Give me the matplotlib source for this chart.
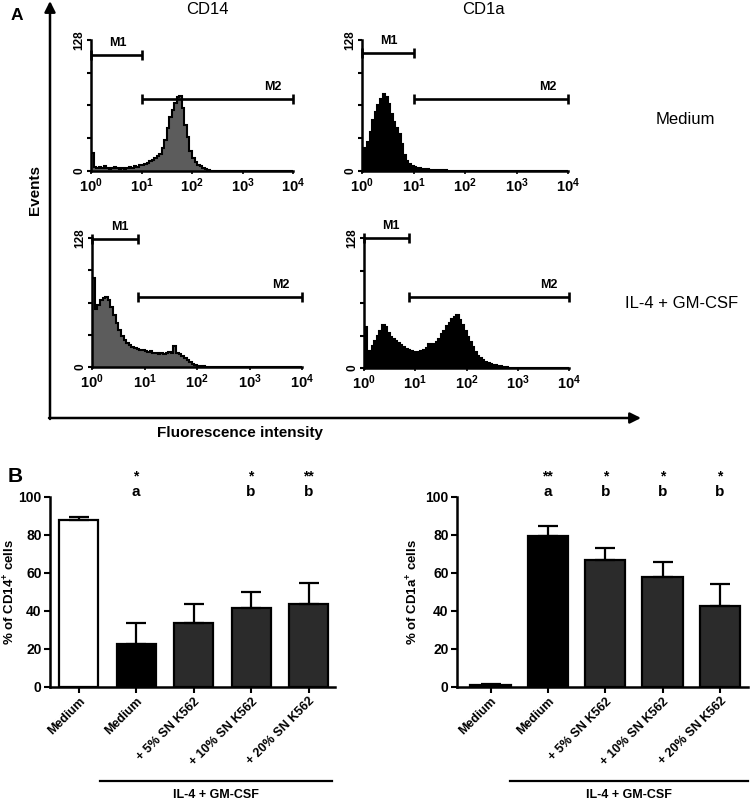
import numpy as np
import matplotlib
matplotlib.use("Agg")
import matplotlib.pyplot as plt

plt.rcParams['font.family'] = ['Liberation Sans', 'DejaVu Sans']
plt.rcParams['mathtext.fontset'] = 'custom'
plt.rcParams['mathtext.rm'] = 'Liberation Sans'
plt.rcParams['mathtext.bf'] = 'Liberation Sans:bold'

W, H = 750, 801

# flow cytometry histograms: events per bin, 20 bins per decade (10^0 .. 10^4)
cd14_medium = [18, 4, 3, 4, 3, 5, 3, 2, 3, 4, 3, 2, 3, 2, 3, 4, 3, 5, 4, 6,
               6, 7, 8, 10, 11, 13, 15, 17, 22, 30, 42, 53, 60, 66, 72, 73, 62, 45, 33, 20,
               13, 9, 6, 5, 3, 2, 1, 0, 0, 0, 0, 0, 0, 0, 0, 0, 0, 0, 0, 0,
               0, 0, 0, 0, 0, 0, 0, 0, 0, 0, 0, 0, 0, 0, 0, 0, 0, 0, 0, 0]
cd1a_medium = [22, 20, 28, 38, 50, 58, 64, 70, 75, 72, 65, 56, 48, 42, 36, 26, 16, 10, 7, 5,
               4, 3, 3, 2, 2, 2, 1, 1, 1, 1, 1, 0, 1, 0, 0, 0, 0, 0, 0, 0,
               0, 0, 0, 0, 0, 0, 0, 0, 0, 0, 0, 0, 0, 0, 0, 0, 0, 0, 0, 0,
               0, 0, 0, 0, 0, 0, 0, 0, 0, 0, 0, 0, 0, 0, 0, 0, 0, 0, 0, 0]
cd14_il4 = [88, 58, 62, 66, 68, 69, 66, 60, 52, 44, 37, 31, 27, 24, 22, 20, 19, 18, 17, 17,
            16, 15, 16, 14, 14, 13, 14, 13, 14, 15, 14, 21, 14, 13, 11, 9, 7, 5, 3, 2,
            1, 1, 1, 0, 0, 0, 0, 0, 0, 0, 0, 0, 0, 0, 0, 0, 0, 0, 0, 0,
            0, 0, 0, 0, 0, 0, 0, 0, 0, 0, 0, 0, 0, 0, 0, 0, 0, 0, 0, 0]
cd1a_il4 = [40, 14, 17, 22, 27, 32, 36, 42, 40, 34, 31, 29, 27, 25, 23, 21, 19, 18, 17, 16,
            16, 16, 17, 18, 20, 24, 23, 24, 26, 29, 33, 36, 41, 44, 48, 50, 52, 47, 42, 36,
            31, 26, 21, 16, 12, 10, 8, 6, 5, 4, 3, 3, 2, 2, 1, 1, 0, 0, 0, 0,
            0, 0, 0, 0, 0, 0, 0, 0, 0, 0, 0, 0, 0, 0, 0, 0, 0, 0, 0, 0]

# marker gates: (start, end, height)
cd14_medium_m1 = (1, 10, 113)
cd14_medium_m2 = (10, 10000, 70)
cd1a_medium_m1 = (1, 10, 115)
cd1a_medium_m2 = (10, 10000, 70)
cd14_il4_m1 = (1, 7.6, 127)
cd14_il4_m2 = (7.6, 10000, 69)
cd1a_il4_m1 = (1, 7.4, 128)
cd1a_il4_m2 = (7.4, 10000, 70)

# panel B
bar_labels = ["Medium", "Medium", "+ 5% SN K562", "+ 10% SN K562", "+ 20% SN K562"]
cd14_pct = [87.7, 22.6, 33.8, 41.5, 43.9]
cd14_err = [1.6, 11.2, 10.1, 8.4, 11.1]
cd14_stars = ["", "*", "", "*", "**"]
cd14_letters = ["", "a", "", "b", "b"]
cd1a_pct = [1.0, 79.5, 66.9, 57.8, 42.5]
cd1a_err = [0.6, 5.2, 6.0, 8.2, 11.5]
cd1a_stars = ["", "**", "*", "*", "*"]
cd1a_letters = ["", "a", "b", "b", "b"]
bar_colors = ["white", "black", "#2b2b2b", "#2b2b2b", "#2b2b2b"]

fig = plt.figure(figsize=(W / 100, H / 100), dpi=100)


def px_axes(left, top, right, bottom, **kw):
    return fig.add_axes([left / W, 1 - bottom / H, (right - left) / W, (bottom - top) / H], **kw)


def draw_hist(ax, counts, fill, m1, m2):
    edges = 10 ** (np.arange(len(counts) + 1) / 20)
    ax.stairs(counts, edges, fill=True, color=fill, lw=0)
    ax.stairs(counts, edges, color='black', lw=1.5)
    ax.set_xscale('log')
    ax.set_xlim(1, 1e4)
    ax.set_ylim(0, 128)
    for s in ['top', 'right']:
        ax.spines[s].set_visible(False)
    for s in ['left', 'bottom']:
        ax.spines[s].set_linewidth(1.8)
    ax.set_xticks([1, 10, 100, 1000, 10000])
    ax.set_xticklabels([r'$\mathbf{10^{%d}}$' % k for k in range(5)], fontsize=10.5)
    ax.xaxis.set_minor_locator(matplotlib.ticker.NullLocator())
    ax.set_yticks([0, 32, 64, 96, 128])
    ax.set_yticklabels(['0', '', '', '', '128'], rotation=90, va='center',
                       fontsize=8.5, fontweight='bold')
    ax.tick_params(axis='y', length=3, width=1.5, pad=1)
    ax.tick_params(axis='x', length=2, width=1.2, pad=2)
    for (x0, x1, y), name, lx in [(m1, 'M1', 3.4), (m2, 'M2', 4000)]:
        ax.plot([x0, x1], [y, y], color='black', lw=1.9, marker='|', ms=7, mew=1.9,
                clip_on=False, solid_capstyle='butt')
        ax.text(lx, y + 6, name, ha='center', va='bottom', fontsize=9,
                fontweight='bold', clip_on=False)


h1 = px_axes(91, 40, 293, 171)
draw_hist(h1, cd14_medium, '#5c5c5c', cd14_medium_m1, cd14_medium_m2)
h2 = px_axes(362, 40, 568, 171)
draw_hist(h2, cd1a_medium, 'black', cd1a_medium_m1, cd1a_medium_m2)
h3 = px_axes(92, 238, 302, 367)
draw_hist(h3, cd14_il4, '#5c5c5c', cd14_il4_m1, cd14_il4_m2)
h4 = px_axes(364, 238, 569, 368)
draw_hist(h4, cd1a_il4, 'black', cd1a_il4_m1, cd1a_il4_m2)


def draw_bars(ax, vals, errs, stars, letters, xlim, width, ylabel, label_x):
    x = np.arange(len(vals))
    ax.bar(x, vals, width=width, color=bar_colors, edgecolor='black', linewidth=1.6, zorder=2)
    ax.errorbar(x, vals, yerr=[np.zeros(len(vals)), errs], fmt='none', ecolor='black',
                elinewidth=1.6, capsize=7, capthick=1.6, zorder=3)
    ax.set_xlim(*xlim)
    ax.set_ylim(0, 100)
    for s in ['top', 'right']:
        ax.spines[s].set_visible(False)
    for s in ['left', 'bottom']:
        ax.spines[s].set_linewidth(1.8)
    ax.set_yticks([0, 20, 40, 60, 80, 100])
    ax.set_yticklabels(['0', '20', '40', '60', '80', '100'], fontsize=10, fontweight='bold')
    ax.set_xticks(x)
    ax.set_xticklabels(bar_labels, rotation=45, ha='right', rotation_mode='anchor',
                       fontsize=9, fontweight='bold')
    ax.tick_params(axis='both', length=4, width=1.5, pad=2)
    ax.set_ylabel(ylabel, fontsize=9.5, fontweight='bold')
    ax.yaxis.set_label_coords(label_x, 0.5)
    for xi, st, lt in zip(x, stars, letters):
        ax.text(xi, 111, st, ha='center', va='center', fontsize=10, fontweight='bold', clip_on=False)
        ax.text(xi, 102.5, lt, ha='center', va='center', fontsize=11, fontweight='bold', clip_on=False)


b1 = px_axes(50, 497, 335, 687)
draw_bars(b1, cd14_pct, cd14_err, cd14_stars, cd14_letters, (-0.50, 4.46), 0.68,
          r'% of CD14$^{\mathbf{+}}$ cells', -0.112)
b2 = px_axes(457, 497, 748, 687)
draw_bars(b2, cd1a_pct, cd1a_err, cd1a_stars, cd1a_letters, (-0.585, 4.49), 0.70,
          r'% of CD1a$^{\mathbf{+}}$ cells', -0.125)

# overlay in pixel coordinates for arrows and labels
ov = fig.add_axes([0, 0, 1, 1], zorder=-1)
ov.set_xlim(0, W)
ov.set_ylim(H, 0)
ov.axis('off')
arrow = dict(arrowstyle='-|>', lw=1.8, color='black', mutation_scale=16, shrinkA=0, shrinkB=0)
ov.annotate('', xy=(50, 1), xytext=(50, 419), arrowprops=arrow)
ov.annotate('', xy=(641, 418), xytext=(49, 418), arrowprops=arrow)

ov.text(17, 15, 'A', fontsize=12.5, fontweight='bold', ha='center', va='center')
ov.text(15, 477, 'B', fontsize=15, fontweight='bold', ha='center', va='center')
ov.text(207, 10, 'CD14', fontsize=12, ha='center', va='center')
ov.text(483, 10, 'CD1a', fontsize=12, ha='center', va='center')
ov.text(685, 120, 'Medium', fontsize=12, ha='center', va='center')
ov.text(682, 304, 'IL-4 + GM-CSF', fontsize=12, ha='center', va='center')
ov.text(35, 190, 'Events', fontsize=11, fontweight='bold', rotation=90, ha='center', va='center')
ov.text(240, 433, 'Fluorescence intensity', fontsize=11, fontweight='bold',
        ha='center', va='center')

ov.plot([100, 332], [781, 781], color='black', lw=1.6)
ov.text(216, 795, 'IL-4 + GM-CSF', fontsize=9, fontweight='bold', ha='center', va='center')
ov.plot([510, 748], [781, 781], color='black', lw=1.6)
ov.text(629, 795, 'IL-4 + GM-CSF', fontsize=9, fontweight='bold', ha='center', va='center')

fig.savefig('out.png', dpi=100)
